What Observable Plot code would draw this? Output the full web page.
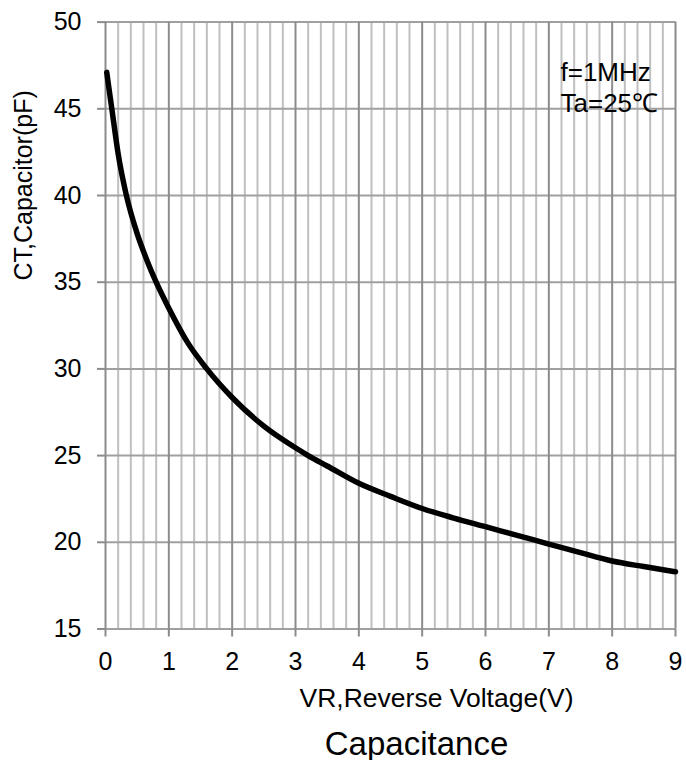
<!DOCTYPE html>
<html>
<head>
<meta charset="utf-8">
<script src="https://cdn.jsdelivr.net/npm/d3@7"></script>
<script src="https://cdn.jsdelivr.net/npm/@observablehq/plot@0.6"></script>
<style>
  html, body { margin: 0; padding: 0; background: #fff; }
  #chart svg { display: block; }
</style>
</head>
<body>
<div id="chart"></div>
<script>
// Reverse voltage VR (V)
const voltage = [0.02, 0.05, 0.1, 0.2, 0.33, 0.5, 0.65, 0.8, 1.0, 1.3, 1.6, 2.0, 2.5, 3.0, 3.2, 3.5, 4.0, 4.5, 5.0, 5.5, 6.0, 6.5, 7.0, 7.5, 8.0, 8.5, 9.0];
// Capacitance CT (pF)
const capacitance = [47.1, 46.3, 45.0, 42.4, 40.0, 37.8, 36.3, 35.0, 33.5, 31.5, 30.0, 28.35, 26.7, 25.45, 25.0, 24.4, 23.4, 22.65, 21.95, 21.4, 20.9, 20.4, 19.9, 19.4, 18.92, 18.6, 18.3];

const xMajorTicks = [0, 1, 2, 3, 4, 5, 6, 7, 8, 9];
const xMinorTicks = [];
for (let i = 0; i < 9; i++) for (let j = 1; j < 5; j++) xMinorTicks.push(+(i + j * 0.2).toFixed(1));
const yTicks = [15, 20, 25, 30, 35, 40, 45, 50];

const xLabel = "VR,Reverse Voltage(V)";
const yLabel = "CT,Capacitor(pF)";
const title = "Capacitance";
const note = "f=1MHz\nTa=25℃";

const data = voltage.map((v, i) => ({v, c: capacitance[i]}));

const font = "'Liberation Sans', Arial, sans-serif";

const chart = Plot.plot({
  width: 686,
  height: 760,
  marginLeft: 105,
  marginRight: 11,
  marginTop: 21.6,
  marginBottom: 131.5,
  style: {fontFamily: font, fontSize: "25px", color: "#000", background: "#fff"},
  x: {domain: [0, 9]},
  y: {domain: [15, 50]},
  marks: [
    Plot.ruleX(xMinorTicks, {stroke: "#c0c0c0", strokeWidth: 2}),
    Plot.ruleY(yTicks, {stroke: "#a0a0a0", strokeWidth: 2}),
    Plot.ruleX(xMajorTicks, {stroke: "#8c8c8c", strokeWidth: 2}),
    Plot.axisX({ticks: xMajorTicks, tickSize: 8, tickPadding: 15.5, stroke: "#8c8c8c", strokeWidth: 2, label: null, fontSize: 25, fill: "#000"}),
    Plot.axisY({ticks: yTicks, tickSize: 8, tickPadding: 16, stroke: "#8c8c8c", strokeWidth: 2, label: null, fontSize: 25, fill: "#000"}),
    Plot.line(data, {x: "v", y: "c", curve: "monotone-x", stroke: "#000", strokeWidth: 5.5}),
    Plot.text([note], {frameAnchor: "top-right", textAnchor: "start", lineAnchor: "top", dx: -115, dy: 36.4, lineHeight: 1.2, fontSize: 26, fill: "#000"}),
    Plot.text([xLabel], {frameAnchor: "bottom", lineAnchor: "bottom", dx: 46, dy: 77.5, fontSize: 26.5, fill: "#000"}),
    Plot.text([yLabel], {frameAnchor: "left", rotate: -90, dx: -82, dy: -45, fontSize: 25, fill: "#000"}),
    Plot.text([title], {frameAnchor: "bottom", lineAnchor: "bottom", dx: 26, dy: 125.5, fontSize: 33, fill: "#000"})
  ]
});

document.getElementById("chart").appendChild(chart);
</script>
</body>
</html>
